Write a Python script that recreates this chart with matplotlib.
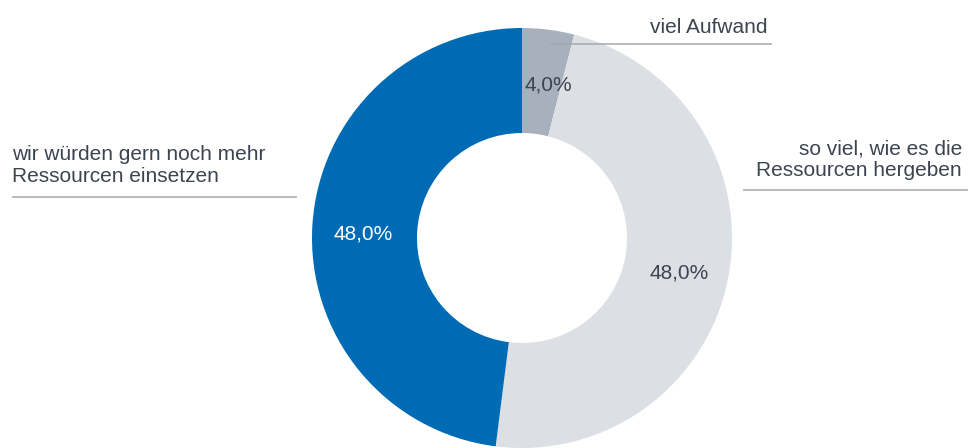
import matplotlib
matplotlib.use("Agg")
import matplotlib.pyplot as plt

# ---- data ----
categories = ["viel Aufwand",
              "so viel, wie es die\nRessourcen hergeben",
              "wir würden gern noch mehr\nRessourcen einsetzen"]
values = [4.0, 48.0, 48.0]
colors = ["#a9b0bd", "#dcdfe4", "#006bb5"]
pct_colors = ["#3d4450", "#3d4450", "#ffffff"]

W, H = 968, 448
plt.rcParams['font.family'] = ['Liberation Sans', 'DejaVu Sans']
fig = plt.figure(figsize=(W / 100, H / 100), dpi=100)
ax = fig.add_axes([0, 0, 1, 1])

def Y(y):
    return H - y

cx, cy, R = 522, 238, 210
wedges, texts, autotexts = ax.pie(
    values, colors=colors, startangle=90, counterclock=False,
    radius=R, center=(cx, Y(cy)),
    wedgeprops=dict(width=R * 0.5, linewidth=0),
    autopct=lambda p: f"{p:.1f}%".replace(".", ","),
    pctdistance=0.76, textprops=dict(fontsize=15))
# small nudges of the percentage labels (pixels)
nudges = [(6, -5), (0, -5), (0, -6)]
for t, c, (dx, dy) in zip(autotexts, pct_colors, nudges):
    t.set_color(c)
    x, y = t.get_position()
    t.set_position((x + dx, y + dy))

ax.set_xlim(0, W)
ax.set_ylim(0, H)
ax.set_aspect('equal')
ax.axis('off')

txt_color = "#3d4450"
line_color = "#a4a8af"
fs = 15

# viel Aufwand
ax.text(768, Y(32.5), categories[0], ha='right', va='baseline', fontsize=fs, color=txt_color)
ax.plot([550, 772], [Y(43.5), Y(43.5)], color=line_color, lw=1.1, solid_capstyle='butt')

# so viel, wie es die / Ressourcen hergeben
for i, line in enumerate(categories[1].split("\n")):
    ax.text(962, Y(154 + 22 * i), line, ha='right', va='baseline', fontsize=fs, color=txt_color)
ax.plot([743, 968], [Y(189.5), Y(189.5)], color=line_color, lw=1.1, solid_capstyle='butt')

# wir würden gern noch mehr / Ressourcen einsetzen
for i, line in enumerate(categories[2].split("\n")):
    ax.text(12, Y(160 + 22 * i), line, ha='left', va='baseline', fontsize=fs, color=txt_color)
ax.plot([12, 297], [Y(196.5), Y(196.5)], color=line_color, lw=1.1, solid_capstyle='butt')

fig.savefig("out.png", dpi=100)
